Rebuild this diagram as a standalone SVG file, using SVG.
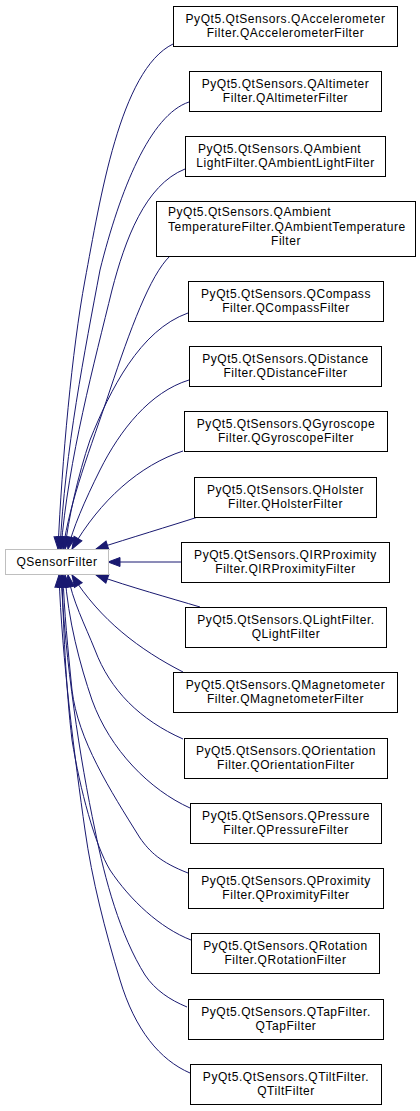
<svg xmlns="http://www.w3.org/2000/svg" width="420" height="1111" viewBox="0 0 420 1111">
<defs>
<marker id="arr" markerUnits="userSpaceOnUse" markerWidth="13" markerHeight="10" refX="12" refY="4.5" orient="auto" overflow="visible">
<path d="M0,0 L12,4.5 L0,9 z" fill="#191970" stroke="#191970" stroke-width="1"/>
</marker>
<style>
.n rect{fill:#fff;stroke:#000;stroke-width:1}
.root rect{fill:#fff;stroke:#bfbfbf;stroke-width:1}
text{font-family:"Liberation Sans",Arial,sans-serif;font-size:12px;letter-spacing:0.55px;fill:#000;text-anchor:middle}
.l{text-anchor:start}
.e path{fill:none;stroke:#191970;stroke-width:1;marker-end:url(#arr)}
</style>
</defs>
<rect width="420" height="1111" fill="#fff"/>
<g id="edges" class="e">
<path d="M173,44 C120,70 100,200 85,280 C72,350 62,460 58,549"/>
<path d="M189,102 C150,115 120,190 100,270 C85,350 65,450 60,549"/>
<path d="M185,169 C145,185 125,240 112,290 C95,360 68,460 61,549"/>
<path d="M170,256 C150,275 130,330 110,390 C90,450 70,500 63,549"/>
<path d="M188,313 C140,330 110,390 90,440 C78,475 68,520 65,549"/>
<path d="M189,380 C150,392 120,430 100,470 C85,500 72,530 68,549"/>
<path d="M183,451 C140,465 100,500 72,549"/>
<path d="M198,517 C170,526 130,538 96,549"/>
<path d="M181,562 L108,562"/>
<path d="M200,607 C170,598 130,587 96,575"/>
<path d="M183,672 C140,650 100,620 72,575"/>
<path d="M183,739 C140,720 110,690 95,650 C85,625 72,600 68,575"/>
<path d="M190,808 C150,790 110,750 92,700 C80,665 68,620 65,575"/>
<path d="M188,873 C160,862 150,852 140,838 C110,790 78,740 72,690 C68,650 64,610 63,575"/>
<path d="M191,940 C160,928 130,900 110,870 C95,845 80,790 72,740 C66,690 63,620 62,575"/>
<path d="M187,1007 C170,1000 155,990 145,975 C120,935 105,880 95,830 C80,760 65,660 61,575"/>
<path d="M190,1073 C160,1060 135,1030 120,980 C105,930 92,880 85,830 C75,760 62,660 59,575"/>
</g>
<g id="QSensorFilter" class="root"><rect x="5.5" y="549.5" width="103" height="25"/><text x="57" y="566">QSensorFilter</text></g>
<g id="QAccelerometerFilter" class="n"><rect x="173.5" y="6.5" width="224" height="40"/><text x="285.5" y="23">PyQt5.QtSensors.QAccelerometer</text><text x="285.5" y="36.5">Filter.QAccelerometerFilter</text></g>
<g id="QAltimeterFilter" class="n"><rect x="189.5" y="71.5" width="192" height="40"/><text x="285.5" y="88">PyQt5.QtSensors.QAltimeter</text><text x="285.5" y="101.5">Filter.QAltimeterFilter</text></g>
<g id="QAmbientLightFilter" class="n"><rect x="185.5" y="136.5" width="200" height="40"/><text class="l" x="198" y="153">PyQt5.QtSensors.QAmbient</text><text x="285.5" y="166.5">LightFilter.QAmbientLightFilter</text></g>
<g id="QAmbientTemperatureFilter" class="n"><rect x="156.5" y="201.5" width="259" height="55"/><text class="l" x="168" y="216">PyQt5.QtSensors.QAmbient</text><text class="l" x="168" y="230.5">TemperatureFilter.QAmbientTemperature</text><text x="286" y="245">Filter</text></g>
<g id="QCompassFilter" class="n"><rect x="188.5" y="281.5" width="195" height="40"/><text x="286" y="298">PyQt5.QtSensors.QCompass</text><text x="286" y="311.5">Filter.QCompassFilter</text></g>
<g id="QDistanceFilter" class="n"><rect x="189.5" y="346.5" width="192" height="40"/><text x="285.5" y="363">PyQt5.QtSensors.QDistance</text><text x="285.5" y="376.5">Filter.QDistanceFilter</text></g>
<g id="QGyroscopeFilter" class="n"><rect x="184.5" y="411.5" width="203" height="40"/><text x="286" y="428">PyQt5.QtSensors.QGyroscope</text><text x="286" y="441.5">Filter.QGyroscopeFilter</text></g>
<g id="QHolsterFilter" class="n"><rect x="194.5" y="477.5" width="182" height="40"/><text x="285.5" y="494">PyQt5.QtSensors.QHolster</text><text x="285.5" y="507.5">Filter.QHolsterFilter</text></g>
<g id="QIRProximityFilter" class="n"><rect x="181.5" y="542.5" width="208" height="40"/><text x="285.5" y="559">PyQt5.QtSensors.QIRProximity</text><text x="285.5" y="572.5">Filter.QIRProximityFilter</text></g>
<g id="QLightFilter" class="n"><rect x="185.5" y="607.5" width="201" height="40"/><text x="286" y="624">PyQt5.QtSensors.QLightFilter.</text><text x="286" y="637.5">QLightFilter</text></g>
<g id="QMagnetometerFilter" class="n"><rect x="173.5" y="672.5" width="224" height="40"/><text x="285.5" y="689">PyQt5.QtSensors.QMagnetometer</text><text x="285.5" y="702.5">Filter.QMagnetometerFilter</text></g>
<g id="QOrientationFilter" class="n"><rect x="184.5" y="738.5" width="203" height="40"/><text x="286" y="755">PyQt5.QtSensors.QOrientation</text><text x="286" y="768.5">Filter.QOrientationFilter</text></g>
<g id="QPressureFilter" class="n"><rect x="190.5" y="803.5" width="191" height="40"/><text x="286" y="820">PyQt5.QtSensors.QPressure</text><text x="286" y="833.5">Filter.QPressureFilter</text></g>
<g id="QProximityFilter" class="n"><rect x="188.5" y="868.5" width="195" height="40"/><text x="286" y="885">PyQt5.QtSensors.QProximity</text><text x="286" y="898.5">Filter.QProximityFilter</text></g>
<g id="QRotationFilter" class="n"><rect x="191.5" y="933.5" width="188" height="40"/><text x="285.5" y="950">PyQt5.QtSensors.QRotation</text><text x="285.5" y="963.5">Filter.QRotationFilter</text></g>
<g id="QTapFilter" class="n"><rect x="188.5" y="999.5" width="195" height="40"/><text x="286" y="1016">PyQt5.QtSensors.QTapFilter.</text><text x="286" y="1029.5">QTapFilter</text></g>
<g id="QTiltFilter" class="n"><rect x="190.5" y="1064.5" width="191" height="40"/><text x="286" y="1081">PyQt5.QtSensors.QTiltFilter.</text><text x="286" y="1094.5">QTiltFilter</text></g>
</svg>
